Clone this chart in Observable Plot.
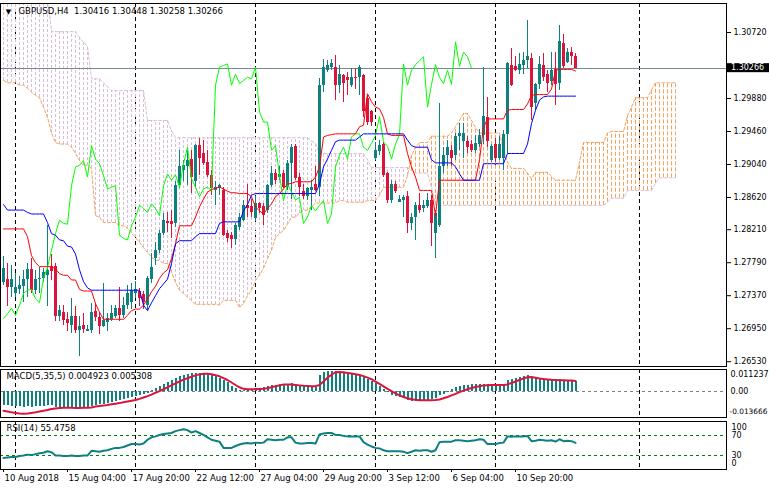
<!DOCTYPE html>
<html><head><meta charset="utf-8">
<script src="https://cdn.jsdelivr.net/npm/d3@7"></script>
<script src="https://cdn.jsdelivr.net/npm/@observablehq/plot@0.6"></script>
<style>
html,body{margin:0;padding:0;background:#fff;}
#chart{position:relative;width:769px;height:490px;overflow:hidden;background:#fff;}
#chart > svg{position:absolute;left:0;}
</style></head><body><div id="chart"></div>
<script>
// ---- data (H4 bars, index 0 = 10 Aug 2018) ----
const opens = [1.2754,1.2757,1.2747,1.2740,1.2745,1.2749,1.2757,1.2770,1.2743,1.2758,
1.2759,1.2763,1.2774,1.2774,1.2710,1.2716,1.2707,1.2699,1.2711,1.2693,
1.2699,1.2692,1.2693,1.2717,1.2709,1.2698,1.2703,1.2707,1.2711,1.2721,
1.2712,1.2725,1.2728,1.2740,1.2742,1.2738,1.2725,1.2757,1.2784,1.2795,
1.2816,1.2832,1.2831,1.2829,1.2877,1.2896,1.2901,1.2910,1.2882,1.2928,
1.2918,1.2907,1.2890,1.2871,1.2873,1.2871,1.2816,1.2814,1.2808,1.2824,
1.2833,1.2852,1.2850,1.2835,1.2854,1.2850,1.2845,1.2877,1.2892,1.2888,
1.2892,1.2875,1.2905,1.2927,1.2888,1.2869,1.2863,1.2871,1.2879,1.2875,
1.3005,1.3024,1.3028,1.3028,1.3005,1.3017,1.3015,1.3005,1.3015,1.3015,
1.3017,1.2988,1.2971,1.2911,1.2920,1.2929,1.2892,1.2858,1.2879,1.2856,
1.2858,1.2863,1.2829,1.2837,1.2852,1.2848,1.2850,1.2858,1.2816,1.2826,
1.2901,1.2916,1.2922,1.2916,1.2939,1.2933,1.2933,1.2930,1.2922,1.2930,
1.2941,1.2964,1.2909,1.2930,1.2911,1.2911,1.2942,1.3030,1.3029,1.3024,
1.3030,1.3036,1.3039,1.2981,1.3006,1.3030,1.3018,1.3009,1.3025,1.3007,
1.3058,1.3034,1.3047,1.30416];
const highs = [1.2787,1.2778,1.2776,1.2765,1.2761,1.2769,1.2778,1.2784,1.2769,1.2773,
1.2771,1.2826,1.2790,1.2778,1.2725,1.2725,1.2716,1.2733,1.2723,1.2710,
1.2714,1.2699,1.2727,1.2727,1.2715,1.2752,1.2714,1.2725,1.2725,1.2748,
1.2735,1.2750,1.2752,1.2755,1.2746,1.2742,1.2761,1.2791,1.2805,1.2820,
1.2841,1.2843,1.2845,1.2882,1.2922,1.2909,1.2922,1.2922,1.2930,1.2937,
1.2935,1.2922,1.2896,1.2882,1.2879,1.2875,1.2820,1.2818,1.2829,1.2841,
1.2858,1.2879,1.2860,1.2863,1.2856,1.2854,1.2879,1.2901,1.2898,1.2901,
1.2896,1.2909,1.2930,1.2930,1.2892,1.2879,1.2875,1.2884,1.2901,1.3013,
1.3038,1.3036,1.3038,1.3043,1.3030,1.3019,1.3021,1.3026,1.3026,1.3030,
1.3019,1.2992,1.2973,1.2932,1.2935,1.2932,1.2894,1.2884,1.2882,1.2865,
1.2865,1.2869,1.2841,1.2856,1.2867,1.2858,1.2867,1.2865,1.2845,1.2981,
1.2926,1.2935,1.2928,1.2943,1.2956,1.2956,1.2939,1.2935,1.2941,1.2949,
1.3027,1.2989,1.2930,1.2937,1.2939,1.2947,1.3034,1.3051,1.3041,1.3045,
1.3047,1.3087,1.3045,1.3007,1.3041,1.3045,1.3024,1.3047,1.3047,1.3081,
1.3070,1.3051,1.3053,1.30448];
const lows = [1.2750,1.2723,1.2735,1.2735,1.2738,1.2728,1.2735,1.2740,1.2738,1.2740,
1.2754,1.2723,1.2756,1.2704,1.2704,1.2699,1.2691,1.2689,1.2689,1.2659,
1.2689,1.2691,1.2689,1.2704,1.2688,1.2697,1.2691,1.2704,1.2708,1.2704,
1.2708,1.2719,1.2720,1.2733,1.2723,1.2720,1.2718,1.2752,1.2776,1.2791,
1.2814,1.2818,1.2810,1.2824,1.2873,1.2882,1.2877,1.2867,1.2875,1.2890,
1.2903,1.2888,1.2865,1.2852,1.2865,1.2812,1.2805,1.2797,1.2801,1.2820,
1.2831,1.2837,1.2837,1.2831,1.2841,1.2826,1.2841,1.2875,1.2879,1.2884,
1.2873,1.2871,1.2860,1.2884,1.2863,1.2860,1.2858,1.2845,1.2869,1.2863,
1.2996,1.3021,1.3024,1.2985,1.2994,1.2983,1.2992,1.3002,1.3000,1.2992,
1.2964,1.2954,1.2952,1.2909,1.2916,1.2888,1.2854,1.2854,1.2867,1.2855,
1.2837,1.2816,1.2820,1.2807,1.2841,1.2843,1.2848,1.2799,1.2784,1.2824,
1.2892,1.2901,1.2901,1.2909,1.2922,1.2911,1.2918,1.2919,1.2918,1.2926,
1.2930,1.2926,1.2907,1.2907,1.2909,1.2896,1.2918,1.3003,1.3022,1.3019,
1.3019,1.3026,1.2960,1.2973,1.3000,1.3009,1.2996,1.3005,1.2979,1.2998,
1.3026,1.3032,1.3030,1.30258];
const closes = [1.2771,1.2747,1.2757,1.2747,1.2750,1.2757,1.2770,1.2743,1.2757,1.2759,
1.2766,1.2769,1.2768,1.2710,1.2718,1.2706,1.2701,1.2711,1.2693,1.2698,
1.2694,1.2694,1.2716,1.2709,1.2698,1.2705,1.2708,1.2714,1.2721,1.2712,
1.2725,1.2740,1.2744,1.2745,1.2733,1.2728,1.2759,1.2773,1.2795,1.2816,
1.2833,1.2829,1.2828,1.2877,1.2901,1.2903,1.2909,1.2888,1.2928,1.2911,
1.2905,1.2890,1.2873,1.2875,1.2877,1.2814,1.2810,1.2808,1.2826,1.2837,
1.2852,1.2848,1.2843,1.2854,1.2848,1.2839,1.2877,1.2892,1.2884,1.2891,
1.2875,1.2905,1.2926,1.2886,1.2875,1.2863,1.2873,1.2875,1.2871,1.3005,
1.3028,1.3030,1.3032,1.3005,1.3019,1.3007,1.3011,1.3015,1.3013,1.3028,
1.2971,1.2958,1.2958,1.2922,1.2928,1.2890,1.2858,1.2879,1.2869,1.2859,
1.2862,1.2829,1.2837,1.2852,1.2845,1.2852,1.2858,1.2829,1.2841,1.2901,
1.2916,1.2926,1.2911,1.2939,1.2943,1.2943,1.2926,1.2922,1.2931,1.2941,
1.2965,1.2933,1.2927,1.2911,1.2930,1.2942,1.3032,1.3005,1.3024,1.3031,
1.3036,1.3041,1.2977,1.3006,1.3031,1.3015,1.3007,1.3024,1.3006,1.3060,
1.3029,1.3047,1.3041,1.30266];
const tenkan = [1.2822,1.2822,1.2822,1.2822,1.2822,1.2822,1.2812,1.2788,1.2779,1.2774,
1.2774,1.2774,1.2774,1.2771,1.2765,1.2763,1.2763,1.2757,1.2757,1.2745,
1.2743,1.2743,1.2743,1.2727,1.2716,1.2707,1.2707,1.2707,1.2707,1.2707,
1.2707,1.2712,1.2718,1.2720,1.2720,1.2725,1.2733,1.2742,1.2749,1.2759,
1.2766,1.2770,1.2784,1.2803,1.2826,1.2826,1.2826,1.2826,1.2837,1.2850,
1.2860,1.2869,1.2872,1.2874,1.2875,1.2873,1.2870,1.2868,1.2868,1.2867,
1.2867,1.2867,1.2863,1.2850,1.2845,1.2841,1.2848,1.2854,1.2863,1.2867,
1.2873,1.2879,1.2880,1.2882,1.2882,1.2882,1.2882,1.2882,1.2888,1.2901,
1.2939,1.2941,1.2942,1.2943,1.2943,1.2943,1.2943,1.2943,1.2943,1.2952,
1.2954,1.2994,1.2984,1.2977,1.2975,1.2964,1.2943,1.2941,1.2941,1.2941,
1.2941,1.2918,1.2901,1.2888,1.2871,1.2871,1.2871,1.2871,1.2839,1.2884,
1.2884,1.2884,1.2884,1.2884,1.2884,1.2884,1.2884,1.2884,1.2884,1.2910,
1.2951,1.2962,1.2962,1.2962,1.2962,1.2962,1.2973,1.2974,1.2974,1.2974,
1.2974,1.2981,1.2992,1.2993,1.2993,1.2993,1.2993,1.3000,1.3024,1.3025,
1.3025,1.3025,1.3025,1.3023];
const kijun = [1.2853,1.2846,1.2846,1.2846,1.2846,1.2846,1.2843,1.2841,1.2841,1.2841,
1.2841,1.2830,1.2816,1.2814,1.2808,1.2807,1.2800,1.2799,1.2790,1.2770,
1.2755,1.2747,1.2744,1.2744,1.2744,1.2744,1.2744,1.2744,1.2744,1.2744,
1.2744,1.2744,1.2744,1.2744,1.2744,1.2725,1.2718,1.2728,1.2737,1.2746,
1.2752,1.2758,1.2778,1.2803,1.2807,1.2807,1.2807,1.2807,1.2812,1.2816,
1.2816,1.2816,1.2816,1.2816,1.2829,1.2831,1.2831,1.2831,1.2831,1.2831,
1.2845,1.2853,1.2865,1.2867,1.2867,1.2867,1.2867,1.2867,1.2867,1.2867,
1.2867,1.2867,1.2867,1.2867,1.2867,1.2867,1.2867,1.2867,1.2867,1.2879,
1.2901,1.2911,1.2922,1.2933,1.2935,1.2935,1.2935,1.2935,1.2935,1.2939,
1.2943,1.2943,1.2943,1.2943,1.2943,1.2943,1.2943,1.2943,1.2943,1.2943,
1.2943,1.2935,1.2928,1.2926,1.2926,1.2926,1.2926,1.2910,1.2906,1.2906,
1.2906,1.2906,1.2906,1.2901,1.2892,1.2884,1.2884,1.2884,1.2884,1.2884,
1.2905,1.2905,1.2905,1.2905,1.2905,1.2905,1.2918,1.2918,1.2918,1.2918,
1.2918,1.2930,1.2956,1.2973,1.2986,1.2990,1.2991,1.2991,1.2991,1.2991,
1.2991,1.2991,1.2991,1.2991];
// Senkou spans, already shifted 26 bars ahead (bars 0..168)
const senkouA = [1.3011,1.3008,1.3008,1.3008,1.3005,1.3005,1.3001,1.2996,1.2992,1.2989,
1.2977,1.2964,1.2944,1.2932,1.2930,1.2930,1.2930,1.2926,1.2918,1.2909,
1.2903,1.2903,1.2899,1.2839,1.2837,1.2830,1.2830,1.2830,1.2830,1.2826,
1.2826,1.2823,1.2817,1.2811,1.2805,1.2798,1.2792,1.2786,1.2782,1.2782,
1.2778,1.2778,1.2767,1.2754,1.2744,1.2740,1.2735,1.2731,1.2726,1.2726,
1.2726,1.2726,1.2726,1.2726,1.2725,1.2731,1.2731,1.2731,1.2731,1.2722,
1.2727,1.2737,1.2744,1.2756,1.2763,1.2772,1.2784,1.2795,1.2811,1.2816,
1.2820,1.2828,1.2837,1.2837,1.2842,1.2846,1.2846,1.2850,1.2855,1.2855,
1.2855,1.2855,1.2855,1.2855,1.2858,1.2858,1.2856,1.2856,1.2856,1.2856,
1.2856,1.2858,1.2858,1.2858,1.2865,1.2875,1.2875,1.2875,1.2875,1.2875,
1.2875,1.2890,1.2915,1.2926,1.2932,1.2932,1.2932,1.2940,1.2940,1.2940,
1.2940,1.2940,1.2944,1.2952,1.2960,1.2969,1.2969,1.2960,1.2951,1.2944,
1.2944,1.2944,1.2944,1.2944,1.2944,1.2922,1.2907,1.2899,1.2899,1.2899,
1.2899,1.2893,1.2886,1.2894,1.2894,1.2894,1.2894,1.2889,1.2884,1.2884,
1.2884,1.2884,1.2884,1.2884,1.2907,1.2932,1.2932,1.2932,1.2932,1.2932,
1.2932,1.2944,1.2946,1.2946,1.2946,1.2946,1.2966,1.2977,1.2989,1.2989,
1.2989,1.2989,1.2999,1.3008,1.3008,1.3008,1.3008,1.3008,1.3008];
const senkouB = [1.3120,1.3120,1.3120,1.3120,1.3120,1.3120,1.3120,1.3120,1.3120,1.3120,
1.3120,1.3120,1.3073,1.3073,1.3073,1.3073,1.3073,1.3073,1.3073,1.3066,
1.3059,1.3055,1.3013,1.3013,1.3013,1.3008,1.3003,1.2998,1.2998,1.2998,
1.2998,1.2998,1.2998,1.2998,1.2998,1.2998,1.2960,1.2960,1.2960,1.2960,
1.2960,1.2960,1.2947,1.2938,1.2938,1.2938,1.2938,1.2938,1.2938,1.2938,
1.2938,1.2938,1.2938,1.2938,1.2938,1.2938,1.2938,1.2938,1.2938,1.2938,
1.2938,1.2938,1.2938,1.2938,1.2938,1.2938,1.2938,1.2938,1.2938,1.2938,
1.2938,1.2938,1.2938,1.2938,1.2938,1.2938,1.2938,1.2934,1.2931,1.2918,
1.2918,1.2918,1.2918,1.2918,1.2918,1.2918,1.2918,1.2918,1.2918,1.2918,
1.2918,1.2910,1.2900,1.2900,1.2900,1.2900,1.2900,1.2900,1.2900,1.2900,
1.2900,1.2900,1.2896,1.2893,1.2893,1.2893,1.2893,1.2875,1.2852,1.2852,
1.2852,1.2852,1.2852,1.2852,1.2852,1.2852,1.2852,1.2852,1.2852,1.2852,
1.2852,1.2852,1.2852,1.2852,1.2852,1.2852,1.2852,1.2852,1.2852,1.2852,
1.2852,1.2852,1.2852,1.2852,1.2852,1.2852,1.2852,1.2852,1.2852,1.2852,
1.2852,1.2852,1.2852,1.2852,1.2852,1.2852,1.2852,1.2852,1.2852,1.2852,
1.2852,1.2856,1.2861,1.2861,1.2861,1.2861,1.2871,1.2871,1.2871,1.2871,
1.2871,1.2871,1.2871,1.2880,1.2887,1.2887,1.2887,1.2887,1.2887];
const macdHist = [-0.0072,-0.0075,-0.0078,-0.0080,-0.0082,-0.0083,-0.0082,-0.0083,-0.0082,-0.0080,
-0.0078,-0.0074,-0.0075,-0.0085,-0.0088,-0.0088,-0.0088,-0.0087,-0.0088,-0.0086,
-0.0085,-0.0083,-0.0078,-0.0075,-0.0071,-0.0068,-0.0063,-0.0058,-0.0055,-0.0050,
-0.0045,-0.0040,-0.0035,-0.0030,-0.0025,-0.0018,-0.0010,0.0005,0.0015,0.0025,
0.0035,0.0045,0.0055,0.0065,0.0075,0.0083,0.0088,0.0090,0.0094,0.0093,
0.0090,0.0087,0.0082,0.0075,0.0068,0.0055,0.0045,0.0025,0.0012,0.0006,
0.0004,0.0008,0.0010,0.0014,0.0014,0.0018,0.0025,0.0030,0.0030,0.0033,
0.0035,0.0037,0.0038,0.0032,0.0028,0.0024,0.0022,0.0022,0.0020,0.0080,
0.0095,0.0100,0.0104,0.0102,0.0100,0.0098,0.0096,0.0090,0.0085,0.0082,
0.0075,0.0062,0.0052,0.0040,0.0025,0.0010,-0.0008,-0.0020,-0.0028,-0.0033,
-0.0040,-0.0050,-0.0055,-0.0056,-0.0052,-0.0050,-0.0048,-0.0045,-0.0040,-0.0025,
-0.0015,-0.0005,0.0008,0.0018,0.0022,0.0028,0.0030,0.0032,0.0033,0.0035,
0.0036,0.0034,0.0032,0.0032,0.0030,0.0036,0.0055,0.0062,0.0068,0.0072,
0.0076,0.0080,0.0072,0.0068,0.0062,0.0060,0.0058,0.0057,0.0055,0.0058,
0.0056,0.0055,0.0054,0.004923];
const macdSignal = [-0.0102,-0.0106,-0.0110,-0.0113,-0.0116,-0.0117,-0.0116,-0.0113,-0.0110,-0.0106,
-0.0102,-0.0098,-0.0093,-0.0090,-0.0087,-0.0086,-0.0086,-0.0086,-0.0087,-0.0087,
-0.0086,-0.0086,-0.0085,-0.0080,-0.0077,-0.0075,-0.0072,-0.0068,-0.0065,-0.0062,
-0.0058,-0.0054,-0.0050,-0.0046,-0.0040,-0.0033,-0.0026,-0.0018,-0.0008,0.0000,
0.0010,0.0020,0.0030,0.0040,0.0050,0.0060,0.0067,0.0075,0.0082,0.0087,
0.0090,0.0090,0.0088,0.0083,0.0077,0.0068,0.0058,0.0045,0.0032,0.0020,
0.0012,0.0010,0.0010,0.0010,0.0011,0.0012,0.0015,0.0020,0.0025,0.0030,
0.0034,0.0035,0.0034,0.0032,0.0030,0.0028,0.0027,0.0026,0.0026,0.0032,
0.0050,0.0070,0.0085,0.0098,0.0100,0.0098,0.0094,0.0092,0.0088,0.0084,
0.0078,0.0070,0.0062,0.0050,0.0038,0.0025,0.0012,0.0000,-0.0012,-0.0022,
-0.0030,-0.0037,-0.0042,-0.0045,-0.0047,-0.0047,-0.0047,-0.0047,-0.0046,-0.0043,
-0.0037,-0.0030,-0.0022,-0.0014,-0.0005,0.0003,0.0010,0.0016,0.0022,0.0026,
0.0030,0.0031,0.0032,0.0032,0.0032,0.0032,0.0035,0.0042,0.0050,0.0058,
0.0066,0.0072,0.0073,0.0070,0.0066,0.0063,0.0061,0.0059,0.0058,0.0057,
0.0056,0.0055,0.0055,0.005308];
const rsi = [24,25,26,26,28,29,31,30,32,34,
35,38,36,29,29,28,28,29,28,28,
29,29,39,38,37,39,40,43,45,45,
47,50,53,53,52,54,62,67,69,72,
74,75,76,80,82,84,82,77,80,76,
72,67,62,60,58,45,45,45,49,52,
54,55,54,56,55,56,63,62,61,62,
62,67,67,56,54,54,55,55,54,73,
75,76,76,72,72,70,69,69,69,69,
57,52,48,45,44,40,38,38,38,38,
37,34,37,40,39,40,40,37,40,57,
58,58,58,61,61,60,59,60,61,63,
62,53,53,53,55,56,69,68,69,69,
69,70,59,60,62,61,60,61,58,63,
59,60,59,55.4758];
const priceTicks = [1.30720,1.29880,1.29460,1.29040,1.28620,1.28210,1.27790,1.27370,1.26950,1.26530];
const timeLabels = [
  {bar: 0, label: "10 Aug 2018"}, {bar: 16, label: "15 Aug 04:00"}, {bar: 32, label: "17 Aug 20:00"},
  {bar: 48, label: "22 Aug 12:00"}, {bar: 64, label: "27 Aug 04:00"}, {bar: 80, label: "29 Aug 20:00"},
  {bar: 96, label: "3 Sep 12:00"}, {bar: 112, label: "6 Sep 04:00"}, {bar: 128, label: "10 Sep 20:00"}];
const gridBars = [3, 33, 63, 93, 123, 159];
const rsiLevels = [30, 70];
const symbol = "GBPUSD,H4";

// ---- drawing ----
const FONT = "'DejaVu Sans', Tahoma, sans-serif";
const TEAL = "#0e8080", CRIMSON = "#dc143c", SANDY = "#f4a460", THISTLE = "#d8bfd8";
const CRISP = "crispEdges";
const W = 769, MR = 43;
const xDomain = [-0.75, 180.75];
const n = closes.length;
const bars = d3.range(n);
const cloudBars = d3.range(senkouA.length);
const cloudUp = cloudBars.filter(i => senkouA[i] >= senkouB[i]);
const cloudDown = cloudBars.filter(i => senkouA[i] < senkouB[i]);
const chikouBars = d3.range(n - 26);
const bullBars = bars.filter(i => closes[i] >= opens[i]);
const bearBars = bars.filter(i => closes[i] < opens[i]);
const last = n - 1;
const lastPrice = closes[last];
const fmt5 = d => d.toFixed(5);
const title = symbol + "\u00a0 " + [opens[last], highs[last], lows[last], closes[last]].map(fmt5).join(" ");
const baseStyle = {fontFamily: FONT, fontSize: "8px", background: "none", overflow: "visible"};
const grid = () => Plot.ruleX(gridBars, {x: d => d, stroke: "#000", strokeDasharray: "4,3", strokeWidth: 1, shapeRendering: CRISP});
const candles = (idx, color) => [
  Plot.ruleX(idx, {x: i => i, y1: i => lows[i], y2: i => highs[i], stroke: color, strokeWidth: 1, shapeRendering: CRISP}),
  Plot.ruleX(idx, {x: i => i, y1: i => opens[i], y2: i => closes[i], stroke: color, strokeWidth: 3, shapeRendering: CRISP})
];

const main = Plot.plot({
  width: W, height: 368, marginLeft: 0, marginRight: MR, marginTop: 3, marginBottom: 2,
  style: baseStyle,
  x: {domain: xDomain, axis: null},
  y: {domain: [1.26469, 1.31089], axis: "right", ticks: priceTicks, tickFormat: fmt5, tickSize: 4, tickPadding: 3, label: null},
  marks: [
    grid(),
    Plot.ruleX(cloudDown, {x: i => i, y1: i => senkouA[i], y2: i => senkouB[i], stroke: THISTLE, strokeDasharray: "3,2", strokeWidth: 1, clip: true, shapeRendering: CRISP}),
    Plot.ruleX(cloudUp, {x: i => i, y1: i => senkouB[i], y2: i => senkouA[i], stroke: SANDY, strokeDasharray: "4,2", strokeWidth: 1, clip: true}),
    Plot.line(cloudBars, {x: i => i, y: i => senkouB[i], stroke: THISTLE, strokeDasharray: "3,2", strokeWidth: 1, clip: true}),
    Plot.line(cloudBars, {x: i => i, y: i => senkouA[i], stroke: SANDY, strokeDasharray: "3,2", strokeWidth: 1, clip: true}),
    Plot.ruleY([lastPrice], {stroke: "#778899", strokeWidth: 1, shapeRendering: CRISP}),
    ...candles(bullBars, TEAL),
    ...candles(bearBars, CRIMSON),
    Plot.line(chikouBars, {x: i => i, y: i => closes[i + 26], stroke: "#00ff00", strokeWidth: 1}),
    Plot.line(bars, {x: i => i, y: i => tenkan[i], stroke: "#ff0000", strokeWidth: 1}),
    Plot.line(bars, {x: i => i, y: i => kijun[i], stroke: "#0000ff", strokeWidth: 1}),
    Plot.frame({stroke: "#000", shapeRendering: CRISP}),
    Plot.text([title], {frameAnchor: "top-left", dx: 18, dy: 8, textAnchor: "start", lineAnchor: "middle", fontSize: 8.5}),
    Plot.text(["\u25BC"], {frameAnchor: "top-left", dx: 8, dy: 8, textAnchor: "middle", lineAnchor: "middle", fontSize: 7})
  ]
});
// current price label on the axis
{
  const yp = main.scale("y").apply(lastPrice);
  const g = d3.select(main).append("g");
  g.append("rect").attr("x", 727).attr("y", yp - 4.5).attr("width", 42).attr("height", 9).attr("fill", "#000");
  g.append("text").attr("x", 731).attr("y", yp).attr("dy", "0.32em").attr("fill", "#fff")
    .attr("text-anchor", "start").attr("font-family", FONT).attr("font-size", 8).text(fmt5(lastPrice));
}

const macdTitle = "MACD(5,35,5) " + macdHist[last].toFixed(6) + " " + macdSignal[last].toFixed(6);
const macdPlot = Plot.plot({
  width: W, height: 53, marginLeft: 0, marginRight: MR, marginTop: 3, marginBottom: 2,
  style: baseStyle,
  x: {domain: xDomain, axis: null},
  y: {domain: [-0.013666, 0.011237], axis: null},
  marks: [
    grid(),
    Plot.ruleY([0], {stroke: "#808080", strokeDasharray: "3,3", shapeRendering: CRISP}),
    Plot.ruleX(bars, {x: i => i, y1: 0, y2: i => macdHist[i], stroke: TEAL, strokeWidth: 2, shapeRendering: CRISP}),
    Plot.line(bars, {x: i => i, y: i => macdSignal[i], stroke: CRIMSON, strokeWidth: 2}),
    Plot.frame({stroke: "#000", shapeRendering: CRISP}),
    Plot.text([macdTitle], {frameAnchor: "top-left", dx: 6, dy: 7, textAnchor: "start", lineAnchor: "middle", fontSize: 8.5}),
    Plot.text([0.011237], {y: d => d, text: d => d.toFixed(6), frameAnchor: "right", dx: 4, dy: 5, textAnchor: "start", lineAnchor: "middle"}),
    Plot.text([0], {y: d => d, text: () => "0.00", frameAnchor: "right", dx: 4, textAnchor: "start", lineAnchor: "middle"}),
    Plot.text([-0.013666], {y: d => d, text: d => d.toFixed(6), frameAnchor: "right", dx: 3, dy: -6, textAnchor: "start", lineAnchor: "middle", fontSize: 7.4})
  ]
});

const rsiTitle = "RSI(14) " + rsi[last].toFixed(4);
const rsiPlot = Plot.plot({
  width: W, height: 71, marginLeft: 0, marginRight: MR, marginTop: 2, marginBottom: 21,
  style: baseStyle,
  x: {domain: xDomain, axis: null},
  y: {domain: [0, 100], axis: null},
  marks: [
    grid(),
    Plot.ruleY(rsiLevels, {stroke: "#008000", strokeDasharray: "3,3", shapeRendering: CRISP}),
    Plot.line(bars, {x: i => i, y: i => rsi[i], stroke: TEAL, strokeWidth: 2}),
    Plot.frame({stroke: "#000", shapeRendering: CRISP}),
    Plot.text([rsiTitle], {frameAnchor: "top-left", dx: 6, dy: 7, textAnchor: "start", lineAnchor: "middle", fontSize: 8.5}),
    Plot.text([100], {y: d => d, text: d => String(d), frameAnchor: "right", dx: 5, dy: 6, textAnchor: "start", lineAnchor: "middle"}),
    Plot.text(rsiLevels, {y: d => d, text: d => String(d), frameAnchor: "right", dx: 5, textAnchor: "start", lineAnchor: "middle"}),
    Plot.text([0], {y: d => d, text: d => String(d), frameAnchor: "right", dx: 5, dy: -6, textAnchor: "start", lineAnchor: "middle"}),
    Plot.ruleX(timeLabels, {x: d => d.bar, y1: 0, y2: -7, stroke: "#000", shapeRendering: CRISP}),
    Plot.text(timeLabels, {x: d => d.bar, text: d => d.label, frameAnchor: "bottom", dx: 1, dy: 9, textAnchor: "start", lineAnchor: "middle", fontSize: 8.5})
  ]
});

const chart = document.getElementById("chart");
[[main, 0], [macdPlot, 366], [rsiPlot, 419]].forEach(([svg, top]) => {
  svg.style.position = "absolute";
  svg.style.left = "0px";
  svg.style.top = top + "px";
  chart.appendChild(svg);
});
</script></body></html>
